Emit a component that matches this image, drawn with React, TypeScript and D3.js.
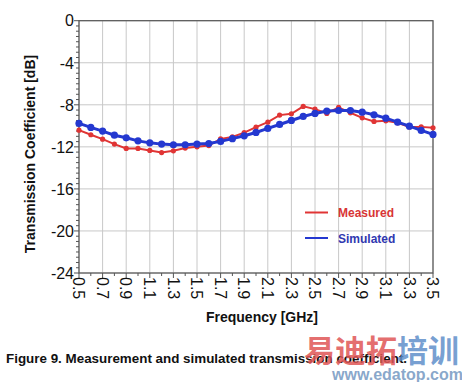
import React from "react";
import * as d3 from "d3";

const freqs = [0.5,0.6,0.7,0.8,0.9,1.0,1.1,1.2,1.3,1.4,1.5,1.6,1.7,1.8,1.9,2.0,2.1,2.2,2.3,2.4,2.5,2.6,2.7,2.8,2.9,3.0,3.1,3.2,3.3,3.4,3.5];
const measured = [-10.41,-10.85,-11.27,-11.74,-12.15,-12.15,-12.34,-12.54,-12.38,-12.12,-12.0,-11.88,-11.25,-11.05,-10.65,-10.13,-9.65,-8.98,-8.85,-8.15,-8.41,-8.82,-8.25,-8.76,-9.24,-9.58,-9.52,-9.71,-10.1,-10.1,-10.19];
const simulated = [-9.77,-10.15,-10.5,-10.89,-11.14,-11.43,-11.62,-11.74,-11.8,-11.8,-11.74,-11.68,-11.48,-11.22,-10.95,-10.63,-10.25,-9.87,-9.49,-9.11,-8.82,-8.6,-8.54,-8.54,-8.7,-8.95,-9.27,-9.65,-10.03,-10.44,-10.82];
const xTicks = [0.5,0.7,0.9,1.1,1.3,1.5,1.7,1.9,2.1,2.3,2.5,2.7,2.9,3.1,3.3,3.5];
const yTicks = [0,-4,-8,-12,-16,-20,-24];
const seriesNames = ["Measured","Simulated"];
const xTitle = "Frequency [GHz]";
const yTitle = "Transmission Coefficient [dB]";
const caption = "Figure 9. Measurement and simulated transmission coefficient.";

const FONT = "Arial, 'Liberation Sans', Helvetica, sans-serif";
const RED = "#e03535";
const BLUE = "#2438d0";

export default function App() {
  const x = d3.scaleLinear().domain([0.5, 3.5]).range([79, 433]);
  const y = d3.scaleLinear().domain([-24, 0]).range([273, 20.7]);
  const line = d3.line<number>().x((_, i) => x(freqs[i])).y((d) => y(d));
  const minorX = d3.range(0, 31).map((i) => 0.5 + i * 0.1);
  const minorY = d3.range(0, 49).map((i) => -i * 0.5);
  const [x0, x1] = x.range();
  const [y0, y1] = y.range();

  return (
    <svg width={462} height={382} style={{ position: "absolute", left: 0, top: 0, background: "#fff" }} fontFamily={FONT}>
      <rect width={462} height={382} fill="#fff" />
      {xTicks.map((t) => (
        <line key={"gx" + t} x1={x(t)} x2={x(t)} y1={y1} y2={y0} stroke="#c8c8c8" strokeWidth={1} />
      ))}
      {yTicks.map((t) => (
        <line key={"gy" + t} x1={x0} x2={x1} y1={y(t)} y2={y(t)} stroke="#c8c8c8" strokeWidth={1} />
      ))}
      <rect x={x0} y={y1} width={x1 - x0} height={y0 - y1} fill="none" stroke="#555" strokeWidth={1.2} />
      {minorY.map((t, i) => (
        <line key={"my" + i} x1={x0} x2={x0 - (i % 8 === 0 ? 5 : 3)} y1={y(t)} y2={y(t)} stroke="#555" strokeWidth={1} />
      ))}
      {minorX.map((t, i) => (
        <line key={"mx" + i} x1={x(t)} x2={x(t)} y1={y0} y2={y0 + (i % 2 === 0 ? 5 : 3)} stroke="#555" strokeWidth={1} />
      ))}
      {yTicks.map((t) => (
        <text key={"ly" + t} x={74} y={y(t)} dy="0.36em" textAnchor="end" fontSize={16} fill="#111">
          {t}
        </text>
      ))}
      {xTicks.map((t) => (
        <text key={"lx" + t} transform={`translate(${x(t)},${y0 + 4}) rotate(90)`} dy="0.36em" textAnchor="start" fontSize={16} fill="#111">
          {t.toFixed(1)}
        </text>
      ))}
      <path d={line(measured) || ""} fill="none" stroke={RED} strokeWidth={2} />
      {measured.map((v, i) => (
        <circle key={"m" + i} cx={x(freqs[i])} cy={y(v)} r={2.6} fill={RED} />
      ))}
      <path d={line(simulated) || ""} fill="none" stroke={BLUE} strokeWidth={3} />
      {simulated.map((v, i) => (
        <circle key={"s" + i} cx={x(freqs[i])} cy={y(v)} r={3.6} fill={BLUE} />
      ))}
      <line x1={305} x2={328} y1={212.5} y2={212.5} stroke={RED} strokeWidth={2} />
      <text x={338} y={217} fontSize={12} fontWeight="bold" fill="#d83535">{seriesNames[0]}</text>
      <line x1={305} x2={328} y1={238} y2={238} stroke={BLUE} strokeWidth={2} />
      <text x={338} y={242.5} fontSize={12} fontWeight="bold" fill="#3038b0">{seriesNames[1]}</text>
      <text x={262} y={322} textAnchor="middle" fontSize={14} fontWeight="bold" fill="#111">{xTitle}</text>
      <text transform={`translate(35,154) rotate(-90)`} textAnchor="middle" fontSize={14} fontWeight="bold" fill="#111">{yTitle}</text>
      <text x={6} y={363} fontSize={13.4} fontWeight="bold" fill="#111">{caption}</text>
      <text x={304} y={362} fontSize={31} fontWeight="bold" fontFamily="'Noto Sans CJK SC', sans-serif" fill="#e05555" fillOpacity={0.85}>易迪拓<tspan fill="#5f8fca">培训</tspan></text>
      <text x={332} y={380} fontSize={16} fontWeight="bold" fill="#7a9cc4" fillOpacity={0.9}>www.edatop.com</text>
    </svg>
  );
}
